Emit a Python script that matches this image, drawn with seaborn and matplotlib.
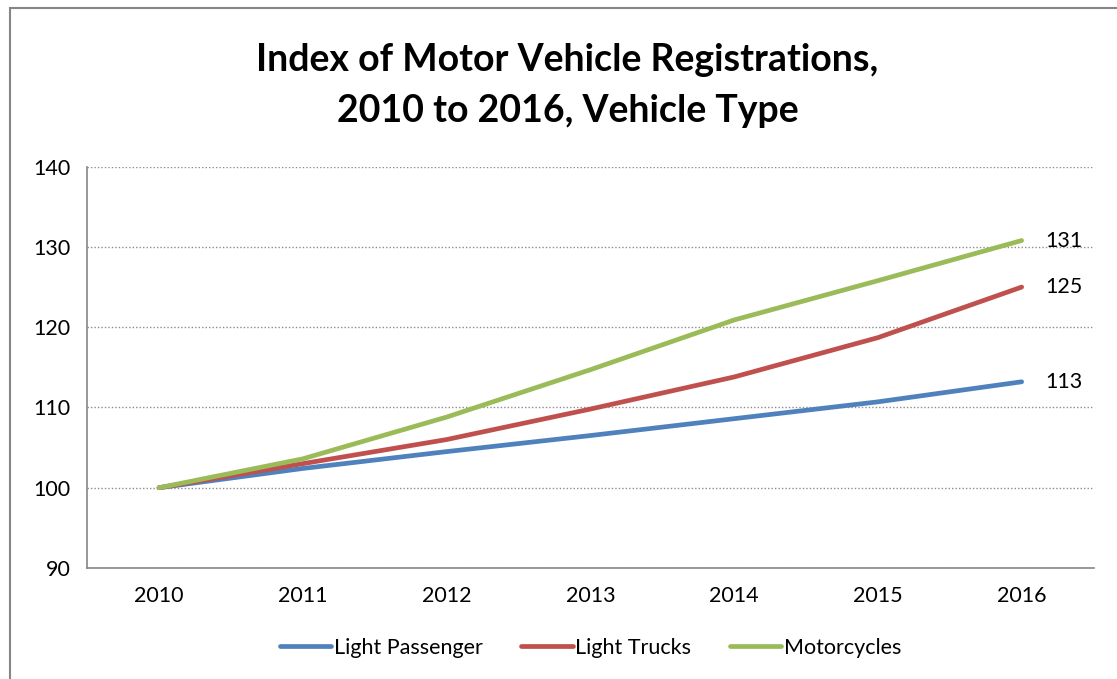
import pandas as pd
import matplotlib.pyplot as plt
from matplotlib.patches import Rectangle
import seaborn as sns

# データ
years = ["2010", "2011", "2012", "2013", "2014", "2015", "2016"]
light_passenger = [100, 102.4, 104.5, 106.5, 108.6, 110.7, 113.2]
light_trucks = [100, 103.0, 106.0, 109.8, 113.8, 118.7, 125.0]
motorcycles = [100, 103.6, 108.8, 114.7, 120.9, 125.8, 130.8]
series_names = ["Light Passenger", "Light Trucks", "Motorcycles"]
end_labels = ["113", "125", "131"]
colors = ["#4F81BD", "#C0504D", "#9BBB59"]

rows = []
for name, vals in zip(series_names, [light_passenger, light_trucks, motorcycles]):
    for i, v in enumerate(vals):
        rows.append({"pos": i, "year": years[i], "value": v, "type": name})
df = pd.DataFrame(rows)

sns.set_style("white")
plt.rcParams['font.family'] = ['Lato', 'DejaVu Sans']
plt.rcParams['text.color'] = 'black'
plt.rcParams['xtick.labelcolor'] = 'black'
plt.rcParams['ytick.labelcolor'] = 'black'

fig = plt.figure(figsize=(11.17, 6.79), dpi=100)
ax = fig.add_axes([0.078, 0.1635, 0.901, 0.591])

sns.lineplot(data=df, x="pos", y="value", hue="type", palette=colors,
             linewidth=3.4, ax=ax, legend=True)

ax.set_xlim(-0.5, 6.5)
ax.set_ylim(90, 140)
ax.set_yticks([90, 100, 110, 120, 130, 140])
ax.set_xticks(range(len(years)))
ax.set_xticklabels(years)
ax.set_xticks([i - 0.5 for i in range(len(years) + 1)], minor=True)
ax.tick_params(axis="x", which="major", length=0, pad=13, labelsize=15.5)
ax.tick_params(axis="x", which="minor", length=7, color="#868686", direction="out")
ax.tick_params(axis="y", length=7, color="#868686", direction="out", labelsize=15.5, pad=5)
ax.set_xlabel("")
ax.set_ylabel("")

ax.grid(axis="y", linestyle=(0, (1, 1.5)), color="#8c8c8c", linewidth=1)
for s in ["top", "right"]:
    ax.spines[s].set_visible(False)
for s in ["left", "bottom"]:
    ax.spines[s].set_color("#868686")
    ax.spines[s].set_linewidth(1.2)

# 最終値のラベル
for vals, lab in zip([light_passenger, light_trucks, motorcycles], end_labels):
    ax.annotate(lab, xy=(6, vals[-1]), xytext=(17, 0), textcoords="offset points",
                ha="left", va="center", fontsize=15.5, color="black")

leg = ax.legend(loc="upper center", bbox_to_anchor=(0.5, -0.125), ncol=3, frameon=False,
                fontsize=15.5, handlelength=2.4, handletextpad=0.1, columnspacing=1.8)
for line in leg.get_lines():
    line.set_linewidth(3.4)
for t in leg.get_texts():
    t.set_color("black")

fig.text(0.508, 0.911, "Index of Motor Vehicle Registrations,", ha="center", va="center",
         fontsize=27, fontweight="bold", color="black")
fig.text(0.508, 0.836, "2010 to 2016, Vehicle Type", ha="center", va="center",
         fontsize=27, fontweight="bold", color="black")

fig.patches.append(Rectangle((10 / 1117, -0.05), 1.2, 1 - 8 / 679 + 0.05,
                             transform=fig.transFigure, fill=False,
                             edgecolor="#868686", linewidth=1.5))

fig.savefig("out.png", dpi=100)
